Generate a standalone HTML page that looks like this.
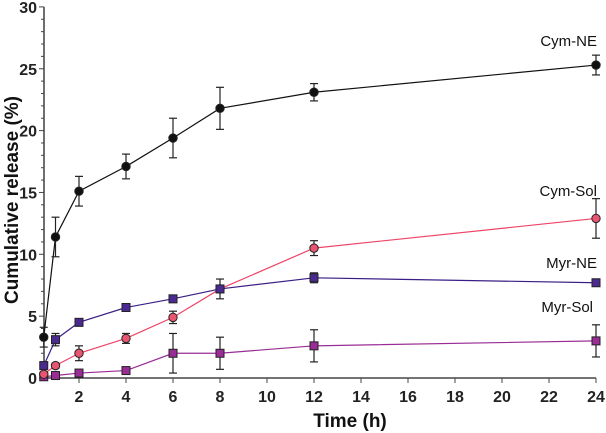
<!DOCTYPE html>
<html><head><meta charset="utf-8"><style>body{margin:0;background:#fff}svg{display:block;font-family:"Liberation Sans",Arial,sans-serif}</style></head>
<body>
<svg id="chart" width="606" height="433" viewBox="0 0 606 433"></svg>
<script>
const times=[0.5,1,2,4,6,8,12,24];
const cymNE=[3.3,11.4,15.1,17.1,19.4,21.8,23.1,25.3];
const cymNEErr=[0.8,1.6,1.2,1.0,1.6,1.7,0.7,0.8];
const cymSol=[0.3,1.0,2.0,3.2,4.9,7.2,10.5,12.9];
const cymSolErr=[0.2,0.2,0.6,0.4,0.5,0.3,0.6,1.6];
const myrNE=[1.0,3.1,4.5,5.7,6.4,7.2,8.1,7.7];
const myrNEErr=[0.3,0.5,0.3,0.3,0.3,0.8,0.4,0];
const myrSol=[0.1,0.2,0.4,0.6,2.0,2.0,2.6,3.0];
const myrSolErr=[0,0,0,0,1.6,1.3,1.3,1.3];
const xTicks=[2,4,6,8,10,12,14,16,18,20,22,24];
const yTicks=[0,5,10,15,20,25,30];
const svg=document.getElementById('chart');const NS='http://www.w3.org/2000/svg';
const X=t=>32+t*23.5, Y=v=>378-v*12.37;
function el(tag,attrs,parent){const e=document.createElementNS(NS,tag);for(const k in attrs)e.setAttribute(k,attrs[k]);(parent||svg).appendChild(e);return e;}
const ax=el('g',{});
el('line',{x1:44,y1:Y(0),x2:44,y2:Y(30),stroke:'#222','stroke-width':1.3},ax);
el('line',{x1:44,y1:Y(0),x2:X(24),y2:Y(0),stroke:'#222','stroke-width':1.3},ax);
for(let v=0;v<=30;v++){const maj=v%5==0;el('line',{x1:maj?39:41,y1:Y(v),x2:44,y2:Y(v),stroke:'#444','stroke-width':1},ax);}
yTicks.forEach(v=>{const t=el('text',{x:37,y:Y(v)+6,'text-anchor':'end','font-size':16,'font-weight':'bold',fill:'#222'},ax);t.textContent=v;});
xTicks.forEach(v=>{el('line',{x1:X(v),y1:Y(0),x2:X(v),y2:Y(0)+5,stroke:'#444'},ax);const t=el('text',{x:X(v),y:Y(0)+24,'text-anchor':'middle','font-size':16,'font-weight':'bold',fill:'#222'},ax);t.textContent=v;});
let t=el('text',{x:350,y:427,'text-anchor':'middle','font-size':19,'font-weight':'bold',fill:'#111'});t.textContent='Time (h)';

t=el('text',{x:0,y:0,transform:'translate(18,200) rotate(-90)','text-anchor':'middle','font-size':19,'font-weight':'bold',fill:'#111'});t.textContent='Cumulative release (%)';

function series(name,vals,errs,color,fill,shape,label,lx,ly){
 const g=el('g',{});
 el('polyline',{points:times.map((x,i)=>X(x)+','+Y(vals[i])).join(' '),fill:'none',stroke:color,'stroke-width':1.2},g);
 times.forEach((x,i)=>{if(errs[i]>0){const a=Y(vals[i]-errs[i]),b=Y(vals[i]+errs[i]),cx=X(x);
  el('line',{x1:cx,y1:a,x2:cx,y2:b,stroke:'#222','stroke-width':1.2},g);
  el('line',{x1:cx-4,y1:a,x2:cx+4,y2:a,stroke:'#222','stroke-width':1.2},g);
  el('line',{x1:cx-4,y1:b,x2:cx+4,y2:b,stroke:'#222','stroke-width':1.2},g);}});
 times.forEach((x,i)=>{let m;if(shape=='c')m=el('circle',{cx:X(x),cy:Y(vals[i]),r:4.2,fill:fill,stroke:'#222','stroke-width':1},g);
  else m=el('rect',{x:X(x)-4,y:Y(vals[i])-4,width:8,height:8,fill:fill,stroke:'#222','stroke-width':1},g);
  });
 const l=el('text',{x:lx,y:ly,'text-anchor':'end','font-size':15,fill:'#111'});l.textContent=label;
 
}
series('myr-sol',myrSol,myrSolErr,'#9a2c95','#9a2c95','s','Myr-Sol',593,312);
series('cym-sol',cymSol,cymSolErr,'#ee4466','#e85570','c','Cym-Sol',597,196);
series('myr-ne',myrNE,myrNEErr,'#3a1e86','#4a2a90','s','Myr-NE',597,268);
series('cym-ne',cymNE,cymNEErr,'#111','#111','c','Cym-NE',597,46);
</script>
</body></html>
